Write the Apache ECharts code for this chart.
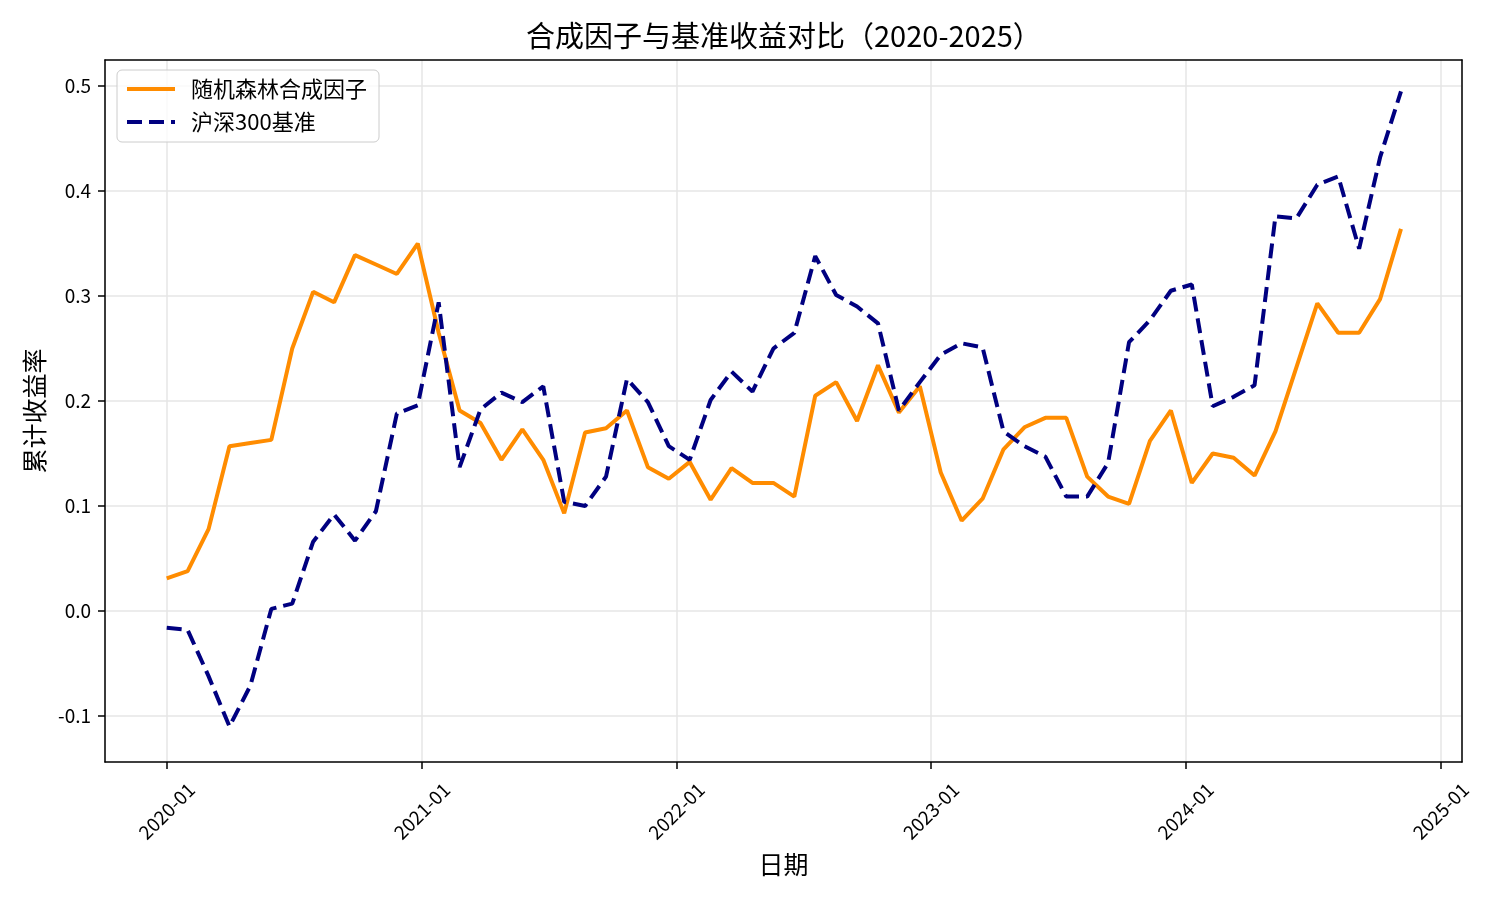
<!DOCTYPE html>
<html>
<head>
<meta charset="utf-8">
<title>合成因子与基准收益对比</title>
<script src="https://cdn.jsdelivr.net/npm/echarts@6/dist/echarts.min.js"></script>
<style>
    html, body { margin: 0; padding: 0; background: #fff; }
    #chart { width: 1500px; height: 900px; }
</style>
</head>
<body>
<div id="chart"></div>
<script>
// 日期（每30天一个点）
const dates = [
    '2020-01-01', '2020-01-31', '2020-03-01', '2020-03-31', '2020-04-30', '2020-05-30',
    '2020-06-29', '2020-07-29', '2020-08-28', '2020-09-27', '2020-10-27', '2020-11-26',
    '2020-12-26', '2021-01-25', '2021-02-24', '2021-03-26', '2021-04-25', '2021-05-25',
    '2021-06-24', '2021-07-24', '2021-08-23', '2021-09-22', '2021-10-22', '2021-11-21',
    '2021-12-21', '2022-01-20', '2022-02-19', '2022-03-21', '2022-04-20', '2022-05-20',
    '2022-06-19', '2022-07-19', '2022-08-18', '2022-09-17', '2022-10-17', '2022-11-16',
    '2022-12-16', '2023-01-15', '2023-02-14', '2023-03-16', '2023-04-15', '2023-05-15',
    '2023-06-14', '2023-07-14', '2023-08-13', '2023-09-12', '2023-10-12', '2023-11-11',
    '2023-12-11', '2024-01-10', '2024-02-09', '2024-03-10', '2024-04-09', '2024-05-09',
    '2024-06-08', '2024-07-08', '2024-08-07', '2024-09-06', '2024-10-06', '2024-11-05'
]

// 随机森林合成因子 累计收益率
const factorReturns = [
    0.031, 0.038, 0.078, 0.157, 0.160, 0.163,
    0.250, 0.304, 0.294, 0.339, 0.330, 0.321,
    0.350, 0.265, 0.191, 0.179, 0.144, 0.173,
    0.144, 0.093, 0.170, 0.174, 0.191, 0.137,
    0.126, 0.142, 0.106, 0.136, 0.122, 0.122,
    0.109, 0.205, 0.218, 0.181, 0.234, 0.189,
    0.214, 0.132, 0.086, 0.107, 0.154, 0.175,
    0.184, 0.184, 0.128, 0.109, 0.102, 0.162,
    0.191, 0.122, 0.150, 0.146, 0.129, 0.171,
    0.232, 0.293, 0.265, 0.265, 0.297, 0.364
]

// 沪深300基准 累计收益率
const benchmarkReturns = [
    -0.016, -0.018, -0.062, -0.110, -0.071, 0.002,
    0.007, 0.066, 0.092, 0.067, 0.095, 0.188,
    0.196, 0.294, 0.137, 0.192, 0.208, 0.199,
    0.214, 0.104, 0.100, 0.128, 0.221, 0.199,
    0.157, 0.144, 0.201, 0.228, 0.209, 0.250,
    0.265, 0.338, 0.301, 0.290, 0.274, 0.191,
    0.218, 0.244, 0.255, 0.251, 0.171, 0.157,
    0.147, 0.109, 0.109, 0.141, 0.256, 0.277,
    0.305, 0.311, 0.195, 0.204, 0.215, 0.376,
    0.374, 0.406, 0.414, 0.345, 0.432, 0.495
]

// y轴刻度
const yTicks = [-0.1, 0.0, 0.1, 0.2, 0.3, 0.4, 0.5]

const seriesNames = ['随机森林合成因子', '沪深300基准']
const seriesColors = ['#ff8c00', '#000080']

const FONT = '"Noto Sans CJK SC", "Noto Sans", sans-serif'

// 坐标范围（两端各留 5%）
const xMin = new Date(2019, 9, 4, 12).getTime()
const xMax = new Date(2025, 0, 31, 12).getTime()
const yMin = -0.1438
const yMax = 0.5248

const pad = (n) => (n < 10 ? '0' + n : '' + n)

const toTime = (s) => {
    let p = s.split('-').map(Number)
    return new Date(p[0], p[1] - 1, p[2]).getTime()
}

// 只在每年1月1日显示刻度文字
const dateLabel = (value) => {
    let d = new Date(value)
    if (d.getMonth() !== 0 || d.getDate() !== 1) return ''
    return d.getFullYear() + '-' + pad(d.getMonth() + 1)
}

const valueLabel = (value) => {
    let r = Math.round(value * 10)
    if (Math.abs(value * 10 - r) > 1e-6) return ''
    return (r / 10).toFixed(1)
}

const toPairs = (values) => dates.map((d, i) => [toTime(d), values[i]])

let chart = echarts.init(document.getElementById('chart'))

let options = {
    animation: false,
    backgroundColor: '#fff',
    textStyle: { fontFamily: FONT },
    title: {
        text: '合成因子与基准收益对比（2020-2025）',
        left: 526,
        top: 20,
        padding: 0,
        textStyle: { fontSize: 29, fontWeight: 'normal', color: '#000', fontFamily: FONT, lineHeight: 32 }
    },
    legend: {
        orient: 'vertical',
        left: 117,
        top: 70,
        padding: [8, 12, 9, 8],
        itemWidth: 48,
        itemHeight: 14,
        itemGap: 11,
        backgroundColor: 'rgba(255,255,255,0.8)',
        borderColor: '#cccccc',
        borderWidth: 1,
        borderRadius: 5,
        itemStyle: { opacity: 0 },
        lineStyle: { width: 4 },
        textStyle: { fontSize: 22, color: '#000', fontFamily: FONT, lineHeight: 22, padding: [0, 0, 0, 11] },
        data: seriesNames
    },
    grid: { left: 105, right: 38, top: 60, bottom: 138 },
    xAxis: [{
        type: 'time',
        min: xMin,
        max: xMax,
        splitNumber: 5,
        name: '日期',
        nameLocation: 'middle',
        nameGap: 90,
        nameTextStyle: { fontSize: 25, color: '#000', fontFamily: FONT },
        axisLine: { show: true, onZero: false, lineStyle: { color: '#000', width: 1.5 } },
        axisTick: { show: true, length: 7, lineStyle: { color: '#000', width: 1.5 } },
        axisLabel: {
            rotate: 45, align: 'center', verticalAlign: 'middle', margin: 49,
            fontSize: 19, color: '#000', fontFamily: FONT, formatter: dateLabel,
            hideOverlap: false
        },
        splitLine: { show: true, lineStyle: { color: '#e6e6e6', width: 1.5 } }
    }, {
        // 上边框
        type: 'time', position: 'top', min: xMin, max: xMax,
        axisLine: { show: true, onZero: false, lineStyle: { color: '#000', width: 1.5 } },
        axisTick: { show: false }, axisLabel: { show: false }, splitLine: { show: false }
    }],
    yAxis: [{
        type: 'value',
        min: yMin,
        max: yMax,
        splitNumber: 7,
        name: '累计收益率',
        nameLocation: 'middle',
        nameRotate: 90,
        nameGap: 54,
        nameTextStyle: { fontSize: 25, color: '#000', fontFamily: FONT },
        axisLine: { show: true, onZero: false, lineStyle: { color: '#000', width: 1.5 } },
        axisTick: { show: true, length: 7, customValues: yTicks, lineStyle: { color: '#000', width: 1.5 } },
        axisLabel: { margin: 14, fontSize: 19, color: '#000', fontFamily: FONT, formatter: valueLabel, customValues: yTicks },
        splitLine: { show: true, lineStyle: { color: '#e6e6e6', width: 1.5 } }
    }, {
        // 右边框
        type: 'value', position: 'right', min: yMin, max: yMax,
        axisLine: { show: true, onZero: false, lineStyle: { color: '#000', width: 1.5 } },
        axisTick: { show: false }, axisLabel: { show: false }, splitLine: { show: false }
    }],
    series: [{
        name: seriesNames[0],
        type: 'line',
        data: toPairs(factorReturns),
        showSymbol: false,
        symbol: 'none',
        color: seriesColors[0],
        lineStyle: { color: seriesColors[0], width: 4, type: 'solid' },
        z: 3
    }, {
        name: seriesNames[1],
        type: 'line',
        data: toPairs(benchmarkReturns),
        showSymbol: false,
        symbol: 'none',
        color: seriesColors[1],
        lineStyle: { color: seriesColors[1], width: 4, type: [15, 7] },
        z: 4
    }]
}

chart.setOption(options)
</script>
</body>
</html>
